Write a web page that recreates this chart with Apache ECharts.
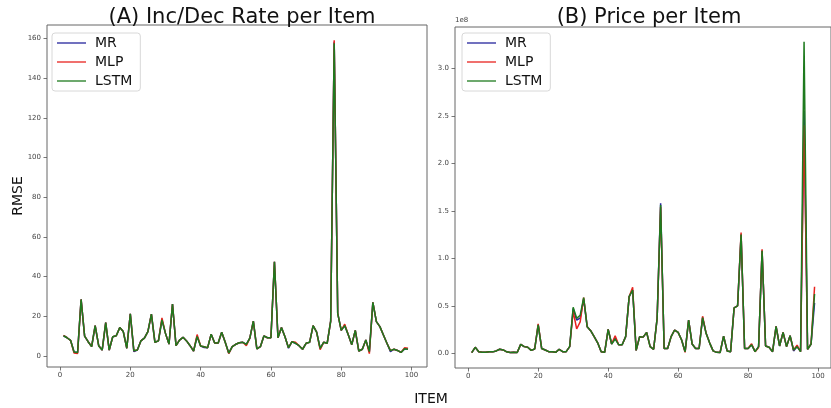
<!DOCTYPE html>
<html>
<head>
<meta charset="utf-8">
<script src="https://cdn.jsdelivr.net/npm/echarts@6/dist/echarts.min.js"></script>
<style>
  html, body { margin: 0; padding: 0; background: #fff; }
  #chart { width: 831px; height: 408px; }
</style>
</head>
<body>
<div id="chart"></div>
<script>
// item index 1..99
const items = [];
for (let i = 1; i <= 99; i++) items.push(i);

// (A) Inc/Dec Rate per Item - RMSE
const rateLSTM = [10.2, 9.2, 7.9, 2.0, 1.8, 28.5, 10, 7.2, 4.7, 15.3,
  5.2, 3.0, 16.8, 3, 9.7, 10.2, 14.3, 12.3, 3.9, 21.3,
  2.7, 3, 7.6, 9, 12.3, 21.1, 6.9, 7.6, 18.2, 11.4,
  6.0, 26.2, 5.2, 8, 9.4, 7.6, 5.2, 2.5, 9.8, 5,
  4.7, 4.2, 11, 6.5, 6.5, 12, 6.9, 1.5, 4.7, 5.9,
  6.7, 6.9, 5.9, 9, 17.6, 3.6, 4.7, 10.1, 9.2, 9.2,
  47.5, 9.2, 14.3, 9.7, 4.2, 7.2, 6.4, 5.2, 3.4, 6.4,
  6.9, 15.3, 12, 3.9, 6.9, 6.4, 17.6, 157.5, 21.5, 12.9,
  15.3, 10.7, 5.7, 12.9, 2.5, 3.4, 8.1, 2.2, 27, 17.3,
  14.8, 10.6, 6.4, 2.7, 3.4, 2.8, 1.8, 3.6, 3.4];
const rateMLP = [10.4, 9.2, 7.9, 1.5, 1.3, 28.5, 10, 7.2, 4.7, 15.3,
  5.2, 3.0, 16.8, 3, 9.7, 10.2, 14.3, 12.3, 3.9, 21.3,
  2.7, 3, 7.6, 9, 12.3, 21.1, 6.9, 7.6, 19.2, 11.4,
  6.0, 26.2, 5.2, 8, 9.4, 7.6, 5.2, 2.5, 10.8, 5,
  4.7, 4.2, 11, 6.5, 6.5, 12, 6.9, 1.2, 4.7, 5.9,
  6.7, 6.9, 5.2, 9, 17.6, 3.6, 4.7, 10.1, 9.2, 9.2,
  47.5, 9.2, 14.3, 9.7, 4.2, 7.2, 6.9, 5.2, 3.4, 6.4,
  6.9, 15.3, 12, 3.2, 6.9, 6.4, 17.6, 159, 21.5, 12.9,
  16, 10.7, 5.7, 12.9, 2.5, 3.4, 8.1, 1.2, 27, 17.3,
  14.8, 10.6, 6.4, 2.7, 3.4, 2.8, 1.8, 4.1, 3.9];
const rateMR = [10.2, 9.2, 7.9, 2.0, 1.8, 28.5, 10, 7.2, 4.7, 15.3,
  5.2, 3.0, 16.8, 3, 9.7, 10.2, 14.3, 12.3, 3.9, 21.3,
  2.2, 3, 7.6, 9, 12.3, 21.1, 6.9, 7.6, 18.2, 11.4,
  6.0, 26.2, 5.2, 8, 9.4, 7.6, 5.2, 2.5, 9.8, 5,
  4.3, 4.2, 11, 6.5, 6.5, 12, 6.9, 1.5, 4.7, 5.9,
  6.7, 6.9, 5.9, 9, 17.6, 3.6, 4.7, 10.1, 9.2, 9.2,
  47.5, 9.2, 14.3, 9.7, 3.9, 7.2, 6.4, 5.2, 3.4, 6.4,
  6.9, 15.3, 12, 3.9, 6.9, 6.4, 17.6, 158.3, 21.5, 12.9,
  15.3, 10.7, 5.7, 12.9, 2.5, 3.4, 8.1, 2.2, 27, 17.3,
  14.8, 10.6, 6.4, 2.2, 3.4, 2.8, 1.8, 3.6, 3.4];

// (B) Price per Item - RMSE, in units of 1e8
const priceLSTM = [0.006, 0.063, 0.017, 0.01, 0.01, 0.017, 0.015, 0.025, 0.042, 0.035,
  0.015, 0.008, 0.01, 0.008, 0.094, 0.07, 0.063, 0.03, 0.045, 0.298,
  0.05, 0.035, 0.017, 0.017, 0.01, 0.042, 0.017, 0.017, 0.07, 0.484,
  0.368, 0.40, 0.585, 0.28, 0.238, 0.175, 0.11, 0.017, 0.01, 0.252,
  0.098, 0.15, 0.09, 0.09, 0.175, 0.596, 0.666, 0.03, 0.175, 0.17,
  0.22, 0.07, 0.042, 0.368, 1.561, 0.05, 0.05, 0.175, 0.245, 0.22,
  0.14, 0.017, 0.35, 0.098, 0.05, 0.05, 0.375, 0.21, 0.11, 0.025,
  0.01, 0.008, 0.18, 0.025, 0.017, 0.477, 0.5, 1.25, 0.05, 0.05,
  0.09, 0.017, 0.07, 1.08, 0.077, 0.063, 0.017, 0.284, 0.077, 0.22,
  0.07, 0.186, 0.035, 0.07, 0.017, 3.28, 0.042, 0.098, 0.624];
const priceMLP = [0.006, 0.063, 0.017, 0.01, 0.01, 0.017, 0.015, 0.025, 0.042, 0.035,
  0.015, 0.008, 0.01, 0.008, 0.094, 0.07, 0.063, 0.03, 0.045, 0.31,
  0.05, 0.035, 0.017, 0.017, 0.01, 0.042, 0.017, 0.017, 0.07, 0.44,
  0.256, 0.33, 0.585, 0.28, 0.238, 0.175, 0.11, 0.017, 0.01, 0.252,
  0.098, 0.185, 0.09, 0.09, 0.175, 0.596, 0.695, 0.03, 0.175, 0.17,
  0.22, 0.07, 0.042, 0.368, 1.54, 0.05, 0.05, 0.175, 0.245, 0.22,
  0.14, 0.01, 0.35, 0.098, 0.05, 0.05, 0.39, 0.21, 0.11, 0.025,
  0.01, 0.008, 0.18, 0.025, 0.017, 0.477, 0.5, 1.27, 0.05, 0.05,
  0.1, 0.017, 0.06, 1.095, 0.077, 0.063, 0.017, 0.284, 0.077, 0.22,
  0.07, 0.186, 0.035, 0.085, 0.017, 2.40, 0.042, 0.098, 0.70];
const priceMR = [0.006, 0.063, 0.017, 0.01, 0.01, 0.017, 0.015, 0.025, 0.042, 0.035,
  0.015, 0.008, 0.01, 0.008, 0.094, 0.07, 0.063, 0.03, 0.045, 0.298,
  0.05, 0.035, 0.017, 0.017, 0.01, 0.042, 0.017, 0.017, 0.07, 0.47,
  0.35, 0.37, 0.57, 0.28, 0.238, 0.175, 0.11, 0.017, 0.01, 0.252,
  0.098, 0.16, 0.09, 0.09, 0.175, 0.596, 0.666, 0.03, 0.175, 0.17,
  0.22, 0.07, 0.042, 0.368, 1.58, 0.05, 0.05, 0.175, 0.245, 0.22,
  0.14, 0.017, 0.35, 0.098, 0.05, 0.05, 0.375, 0.21, 0.11, 0.025,
  0.01, 0.008, 0.18, 0.025, 0.017, 0.477, 0.5, 1.25, 0.05, 0.05,
  0.09, 0.017, 0.07, 1.08, 0.077, 0.063, 0.017, 0.284, 0.077, 0.22,
  0.07, 0.186, 0.025, 0.07, 0.02, 2.55, 0.042, 0.098, 0.53];

// tick labels
const xTicks = [0, 20, 40, 60, 80, 100];
const rateTicks = [0, 20, 40, 60, 80, 100, 120, 140, 160];
const priceTicks = [0, 0.5, 1.0, 1.5, 2.0, 2.5, 3.0];

const colors = { MR: '#24249c', MLP: '#e8221e', LSTM: '#1e7a1e' };
const font = 'DejaVu Sans';

function pairs(vals) { return vals.map((v, k) => [items[k], v]); }

function xAxisCfg(idx, min, max) {
    return {
        type: 'value', gridIndex: idx, min: min, max: max, position: 'bottom',
        splitLine: { show: false },
        axisLine: { show: false, onZero: false },
        axisTick: { show: true, length: 3.5, inside: false, customValues: xTicks,
            lineStyle: { color: '#555', width: 0.8 } },
        axisLabel: { customValues: xTicks, fontSize: 7, color: '#444', margin: 5, fontFamily: font }
    };
}
function yAxisCfg(idx, min, max, ticks, fmt) {
    return {
        type: 'value', gridIndex: idx, min: min, max: max, position: 'left',
        splitLine: { show: false },
        axisLine: { show: false, onZero: false },
        axisTick: { show: true, length: 3.5, customValues: ticks,
            lineStyle: { color: '#555', width: 0.8 } },
        axisLabel: { customValues: ticks, fontSize: 7, color: '#444', margin: 6, fontFamily: font,
            formatter: fmt }
    };
}
function lineSerie(name, xi, vals) {
    return {
        name: name, type: 'line', xAxisIndex: xi, yAxisIndex: xi,
        data: pairs(vals), showSymbol: false, symbol: 'none',
        lineStyle: { color: colors[name], width: 1.5 },
        itemStyle: { color: colors[name] }
    };
}
function legendCfg(left) {
    return {
        data: ['MR', 'MLP', 'LSTM'], orient: 'vertical', left: left, top: 33,
        icon: 'rect', itemWidth: 29, itemHeight: 1.3, itemGap: 5,
        padding: [3, 8, 3, 5],
        borderColor: '#d8d8d8', borderWidth: 1, borderRadius: 3,
        textStyle: { fontSize: 14, lineHeight: 14, color: '#111', fontFamily: font, padding: [0, 0, 0, 4] }
    };
}

const chart = echarts.init(document.getElementById('chart'));
chart.setOption({
    animation: false,
    backgroundColor: '#fff',
    title: [
        { text: '(A) Inc/Dec Rate per Item', left: 237, top: 2, textAlign: 'center',
          textStyle: { fontSize: 21, fontWeight: 'normal', color: '#111', fontFamily: font } },
        { text: '(B) Price per Item', left: 644, top: 2, textAlign: 'center',
          textStyle: { fontSize: 21, fontWeight: 'normal', color: '#111', fontFamily: font } }
    ],
    legend: [legendCfg(52), legendCfg(462)],
    grid: [
        { left: 47, top: 25, width: 380, height: 342, show: true, borderColor: '#666', borderWidth: 1, backgroundColor: 'transparent' },
        { left: 455, top: 27, width: 378, height: 341, show: true, borderColor: '#666', borderWidth: 1, backgroundColor: 'transparent' }
    ],
    xAxis: [xAxisCfg(0, -3.7, 104.4), xAxisCfg(1, -3.78, 103.7)],
    yAxis: [
        yAxisCfg(0, -5.54, 166.75, rateTicks, v => String(v)),
        yAxisCfg(1, -0.155, 3.435, priceTicks, v => v.toFixed(1))
    ],
    series: [
        lineSerie('MR', 0, rateMR),
        lineSerie('MLP', 0, rateMLP),
        lineSerie('LSTM', 0, rateLSTM),
        lineSerie('MR', 1, priceMR),
        lineSerie('MLP', 1, priceMLP),
        lineSerie('LSTM', 1, priceLSTM)
    ],
    graphic: [
        { type: 'text', left: 455, top: 17, style: { text: '1e8', fontSize: 7, fill: '#444', fontFamily: font } },
        { type: 'text', x: 18, y: 196, rotation: Math.PI / 2,
          style: { text: 'RMSE', fontSize: 14, fill: '#111', fontFamily: font, align: 'center', verticalAlign: 'middle' } },
        { type: 'text', x: 431, y: 399,
          style: { text: 'ITEM', fontSize: 14, fill: '#111', fontFamily: font, align: 'center', verticalAlign: 'middle' } }
    ]
});
</script>
</body>
</html>
